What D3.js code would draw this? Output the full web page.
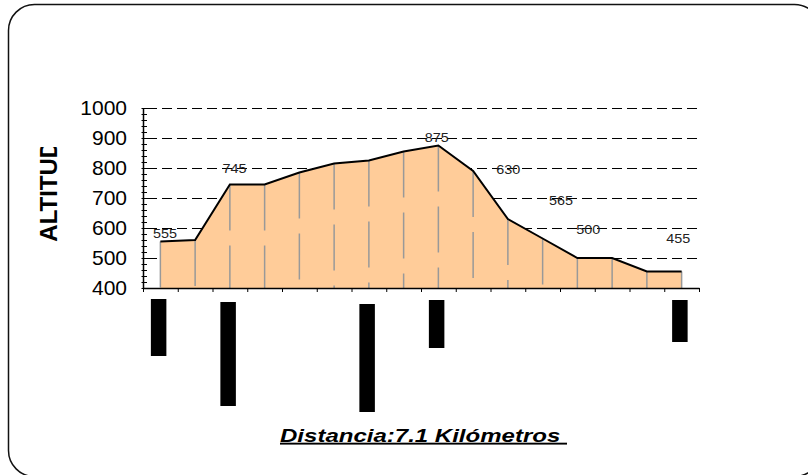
<!DOCTYPE html>
<html>
<head>
<meta charset="utf-8">
<script src="https://cdn.jsdelivr.net/npm/d3@7"></script>
<style>
  body { margin: 0; background: #fff; }
  text { font-family: "Liberation Sans", Arial, sans-serif; }
</style>
</head>
<body>
<div id="chart"></div>
<script>
// altitude profile, one value per stretch of the route
var altitude = [555, 560, 745, 745, 785, 815, 825, 855, 875, 790, 630, 565, 500, 500, 455, 455];

// loose data labels (category position, altitude where they sit)
var labelText = ["555", "745", "875", "630", "565", "500", "455"];
var labelPos = [0.13, 2.13, 7.95, 10.01, 11.53, 12.31, 14.9];
var labelAlt = [581, 797, 902, 795, 691, 593, 564];

// black markers under the axis
var markerCat = [0, 2, 6, 8, 15];
var markerStart = [0, 3, 5, 1, 1];
var markerEnd = [57, 107, 113, 49, 43];

var yTicks = [400, 500, 600, 700, 800, 900, 1000];

var svgWidth = 808;
var svgHeight = 475;

var svg = d3.select("#chart")
  .append("svg")
  .attr("width", svgWidth)
  .attr("height", svgHeight);

// rounded frame
svg.append("rect")
  .attr("x", 8.5).attr("y", 4.5)
  .attr("width", 812).attr("height", 472)
  .attr("rx", 26).attr("ry", 26)
  .attr("fill", "#fff")
  .attr("stroke", "#111")
  .attr("stroke-width", 1.5);

var x = d3.scaleLinear().domain([0, altitude.length]).range([143, 699]);
var y = d3.scaleLinear().domain([400, 1000]).range([288, 108]);
var y2 = d3.scaleLinear().domain([0, 100]).range([299, 399]);

// dashed gridlines
svg.append("g")
  .selectAll("line")
  .data(yTicks.slice(1))
  .enter()
  .append("line")
  .attr("x1", x(0) + 4).attr("x2", x(altitude.length))
  .attr("y1", d => y(d) + 0.5).attr("y2", d => y(d) + 0.5)
  .attr("stroke", "#000")
  .attr("stroke-width", 1)
  .attr("stroke-dasharray", "10,5");

// filled profile
var area = d3.area()
  .x((d, i) => x(i + 0.5))
  .y0(y(400))
  .y1(d => y(d));

svg.append("path")
  .datum(altitude)
  .attr("d", area)
  .attr("fill", "#FFCC99");

// drop lines
svg.append("g")
  .selectAll("line")
  .data(altitude)
  .enter()
  .append("line")
  .attr("x1", (d, i) => x(i + 0.5)).attr("x2", (d, i) => x(i + 0.5))
  .attr("y1", d => y(d)).attr("y2", y(400))
  .attr("stroke", "#999")
  .attr("stroke-width", 1.5)
  .attr("stroke-dasharray", "46,15");

var line = d3.line()
  .x((d, i) => x(i + 0.5))
  .y(d => y(d));

svg.append("path")
  .datum(altitude)
  .attr("d", line)
  .attr("fill", "none")
  .attr("stroke", "#000")
  .attr("stroke-width", 2);

// x axis
var bottomAxis = d3.axisBottom(x)
  .tickValues(d3.range(altitude.length + 1))
  .tickSizeInner(4)
  .tickSizeOuter(0)
  .tickFormat("");

svg.append("g")
  .attr("transform", `translate(0, ${y(400)})`)
  .call(bottomAxis)
  .call(g => g.select(".domain").attr("stroke", "#000").attr("stroke-width", 1.5));

// y axis with labels
var leftAxis = d3.axisLeft(y)
  .tickValues(yTicks)
  .tickFormat(d3.format("d"))
  .tickSize(0)
  .tickPadding(16);

var yAxisG = svg.append("g")
  .attr("transform", `translate(${x(0)}, 0)`)
  .call(leftAxis);
yAxisG.select(".domain").attr("stroke", "#000").attr("stroke-width", 1.5);
yAxisG.selectAll("text")
  .attr("font-size", 21)
  .attr("fill", "#000")
  .attr("font-family", "Liberation Sans, Arial, sans-serif");

// minor ticks
svg.append("g")
  .selectAll("line")
  .data(d3.range(400, 1001, 20))
  .enter()
  .append("line")
  .attr("x1", x(0) - 1.5).attr("x2", x(0) + 4)
  .attr("y1", d => y(d) + 0.5).attr("y2", d => y(d) + 0.5)
  .attr("stroke", "#000")
  .attr("stroke-width", 1);

// value labels
svg.append("g")
  .selectAll("text")
  .data(labelText)
  .enter()
  .append("text")
  .attr("transform", (d, i) => `translate(${x(labelPos[i] + 0.5)}, ${y(labelAlt[i])}) scale(1.2, 1)`)
  .attr("text-anchor", "middle")
  .attr("dy", "0.35em")
  .attr("font-size", 12)
  .attr("fill", "#222")
  .text(d => d);

// markers below the axis
svg.append("g")
  .selectAll("rect")
  .data(markerCat)
  .enter()
  .append("rect")
  .attr("x", d => x(d + 0.5) - 9.5)
  .attr("width", 15.5)
  .attr("y", (d, i) => y2(markerStart[i]))
  .attr("height", (d, i) => y2(markerEnd[i]) - y2(markerStart[i]))
  .attr("fill", "#000");

// y title, clipped at the top like the original
svg.append("clipPath")
  .attr("id", "yclip")
  .append("rect")
  .attr("x", 0).attr("y", 147)
  .attr("width", 120).attr("height", 300);

svg.append("g")
  .attr("clip-path", "url(#yclip)")
  .append("text")
  .attr("transform", "translate(57, 241.7) rotate(-90)")
  .attr("font-size", 24)
  .attr("font-weight", "bold")
  .attr("fill", "#000")
  .text("ALTITUD");

// x title
svg.append("text")
  .attr("x", 280)
  .attr("y", 441.7)
  .attr("textLength", 287)
  .attr("lengthAdjust", "spacingAndGlyphs")
  .attr("font-size", 19)
  .attr("font-weight", "bold")
  .attr("font-style", "italic")
  .attr("text-decoration", "underline")
  .attr("fill", "#000")
  .text("Distancia:7.1 Kilómetros\u00A0");
</script>
</body>
</html>
